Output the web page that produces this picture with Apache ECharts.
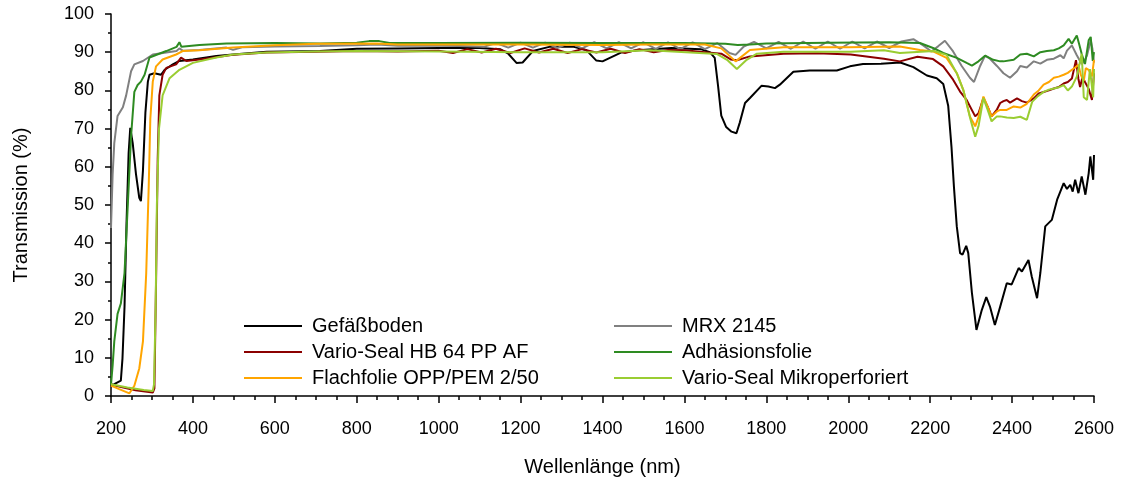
<!DOCTYPE html>
<html>
<head>
<meta charset="utf-8">
<script src="https://cdn.jsdelivr.net/npm/echarts@6/dist/echarts.min.js"></script>
<style>
  html, body { margin: 0; padding: 0; background: #fff; }
  #chart { width: 1127px; height: 483px; }
</style>
</head>
<body>
<div id="chart"></div>
<script>
// Transmission spectra, [wavelength nm, transmission %]
const gefaessboden = [[200,2.9],[208,3.1],[224,4.0],[228,9.8],[233,23.3],[238,45.6],[243,63.5],[247,70.2],[253,66.2],[261,58.1],[269,51.9],[273,51.0],[278,59.0],[284,74.2],[290,82.3],[294,84.1],[306,84.5],[322,84.1],[331,85.4],[351,86.8],[367,87.7],[400,88.1],[457,89.0],[498,89.4],[580,90.1],[710,90.3],[800,90.9],[900,91.0],[1000,91.1],[1100,91.1],[1150,90.8],[1170,89.6],[1190,87.2],[1205,87.3],[1230,90.3],[1270,91.4],[1330,91.4],[1360,90.6],[1385,87.8],[1400,87.6],[1445,89.9],[1486,90.5],[1568,91.1],[1640,90.8],[1662,90.0],[1674,88.5],[1682,81.3],[1690,73.4],[1702,70.4],[1715,69.2],[1727,68.8],[1735,71.5],[1748,76.7],[1760,78.0],[1788,81.2],[1805,81.0],[1821,80.6],[1833,81.5],[1866,84.9],[1906,85.2],[1972,85.2],[2004,86.3],[2036,86.9],[2080,87.0],[2127,87.3],[2159,86.1],[2192,83.9],[2216,83.2],[2232,81.7],[2244,76.0],[2252,65.3],[2258,54.8],[2265,44.4],[2273,37.4],[2279,37.0],[2288,39.3],[2293,37.4],[2302,26.9],[2313,17.3],[2326,22.5],[2337,25.9],[2346,23.4],[2358,18.6],[2371,23.4],[2387,29.5],[2399,29.2],[2416,33.5],[2424,32.6],[2440,35.6],[2448,31.3],[2461,25.6],[2469,32.2],[2481,44.4],[2497,46.1],[2510,51.4],[2526,55.7],[2534,54.2],[2542,55.3],[2548,53.5],[2554,56.6],[2562,53.1],[2570,57.5],[2579,52.7],[2587,58.3],[2591,62.7],[2598,56.6],[2600,63.1]];

const mrx2145 = [[200,44.0],[204,58.0],[208,66.2],[216,73.3],[229,75.6],[237,78.7],[249,85.0],[257,86.8],[278,87.7],[302,89.4],[335,89.9],[360,90.3],[367,91.0],[375,90.4],[416,90.6],[482,91.2],[498,90.6],[520,91.3],[600,91.5],[710,91.6],[800,91.8],[850,92.0],[900,91.7],[1000,91.7],[1050,91.6],[1110,91.4],[1140,92.4],[1170,91.2],[1200,92.5],[1230,91.2],[1260,92.5],[1290,91.1],[1320,92.5],[1350,91.0],[1380,92.6],[1410,91.0],[1440,92.6],[1470,91.0],[1500,92.6],[1530,90.9],[1560,92.6],[1590,90.8],[1620,92.6],[1650,90.8],[1680,92.4],[1710,89.8],[1725,89.3],[1745,91.5],[1770,92.7],[1800,91.0],[1830,92.7],[1860,90.9],[1890,92.8],[1920,90.9],[1950,92.8],[1980,90.9],[2010,92.8],[2040,91.0],[2070,92.8],[2100,91.1],[2130,92.8],[2159,93.4],[2183,91.8],[2203,90.2],[2220,91.6],[2236,93.0],[2256,90.2],[2277,86.4],[2297,83.3],[2307,82.2],[2322,86.4],[2334,89.1],[2346,88.3],[2363,86.4],[2379,84.5],[2395,83.3],[2412,85.0],[2420,86.4],[2436,86.0],[2453,87.6],[2469,87.0],[2485,88.0],[2502,88.3],[2518,89.2],[2526,88.4],[2534,90.4],[2546,91.8],[2558,89.2],[2570,86.9],[2578,88.0],[2583,89.2],[2592,93.1],[2596,91.0],[2600,87.3]];

const varioSealHB = [[200,3.0],[230,2.2],[260,1.5],[302,0.9],[306,2.0],[310,30.0],[314,62.0],[318,78.7],[326,84.1],[335,85.9],[359,86.8],[371,88.6],[384,87.7],[416,88.1],[498,89.3],[580,89.9],[700,90.1],[800,90.3],[900,90.2],[1000,90.4],[1035,89.8],[1070,90.8],[1105,89.9],[1140,90.9],[1175,89.8],[1210,91.0],[1245,89.9],[1280,90.9],[1315,89.8],[1350,90.8],[1385,89.9],[1420,90.9],[1455,89.8],[1490,90.8],[1525,90.0],[1560,90.6],[1600,90.5],[1650,90.0],[1690,89.6],[1713,88.1],[1728,87.9],[1760,88.9],[1842,89.6],[1924,89.7],[2006,89.4],[2087,88.3],[2126,87.6],[2169,88.8],[2207,88.2],[2232,86.3],[2256,82.8],[2273,79.7],[2289,77.5],[2310,73.2],[2318,74.0],[2330,78.0],[2340,75.8],[2350,73.2],[2363,75.0],[2371,76.7],[2379,77.2],[2387,77.5],[2395,76.8],[2412,77.9],[2424,77.2],[2436,76.8],[2453,77.9],[2465,79.2],[2477,79.6],[2490,80.0],[2502,80.5],[2514,80.9],[2526,81.8],[2536,82.2],[2546,83.1],[2556,87.9],[2562,83.0],[2566,80.9],[2572,83.5],[2578,82.2],[2587,80.4],[2595,77.5],[2600,84.5]];

const adhaesionsfolie = [[200,3.0],[204,8.0],[208,14.3],[216,21.5],[224,24.2],[233,32.2],[241,50.0],[249,68.0],[257,79.6],[265,81.4],[273,82.3],[282,84.1],[294,88.6],[335,90.3],[360,91.4],[367,92.6],[372,91.4],[416,91.9],[482,92.3],[600,92.4],[710,92.3],[800,92.5],[830,92.9],[855,92.9],[880,92.4],[1000,92.4],[1200,92.5],[1400,92.4],[1600,92.4],[1700,92.2],[1730,91.9],[1760,92.0],[1800,92.3],[1950,92.5],[2100,92.6],[2175,92.4],[2207,91.1],[2232,89.8],[2265,88.5],[2289,87.2],[2302,86.5],[2318,87.6],[2334,89.1],[2354,88.0],[2371,87.6],[2379,87.6],[2404,88.0],[2420,89.4],[2436,89.6],[2453,88.9],[2469,90.0],[2485,90.3],[2502,90.5],[2514,91.0],[2526,91.8],[2538,93.5],[2546,92.2],[2558,94.4],[2564,92.0],[2570,89.5],[2578,86.9],[2587,93.1],[2592,94.0],[2597,87.7],[2600,90.0]];

const flachfolie = [[200,2.7],[220,1.8],[245,0.7],[257,2.7],[269,7.2],[278,14.3],[286,32.2],[292,54.6],[296,72.5],[302,82.3],[310,86.3],[326,88.1],[359,89.4],[375,90.3],[416,90.5],[498,91.2],[600,91.8],[700,92.2],[850,92.3],[900,92.0],[1000,92.0],[1200,92.0],[1400,91.9],[1516,92.0],[1650,92.0],[1690,91.0],[1725,87.6],[1760,90.6],[1842,91.3],[2000,91.3],[2126,91.5],[2175,90.6],[2207,90.2],[2240,88.5],[2265,84.5],[2281,80.1],[2297,73.2],[2310,70.6],[2318,73.0],[2330,78.4],[2340,75.8],[2350,73.2],[2363,74.5],[2371,74.9],[2387,74.9],[2404,75.8],[2420,75.5],[2436,76.5],[2453,78.9],[2465,80.0],[2477,81.5],[2490,82.2],[2502,83.3],[2514,83.6],[2526,84.1],[2536,84.6],[2546,85.4],[2554,86.0],[2562,86.7],[2568,84.0],[2575,82.5],[2580,85.8],[2587,85.4],[2595,83.7],[2600,88.0]];

const varioSealMikro = [[200,3.1],[240,2.2],[280,1.6],[302,1.3],[305,3.0],[309,23.3],[312,50.0],[317,69.8],[326,78.7],[343,83.2],[367,85.4],[400,87.2],[457,88.6],[498,89.4],[580,89.9],[700,90.2],[800,90.3],[1000,90.2],[1200,90.0],[1400,90.0],[1516,90.5],[1680,89.5],[1704,88.0],[1728,85.6],[1752,88.0],[1777,89.6],[1842,90.1],[2006,90.1],[2087,90.5],[2126,89.8],[2209,90.3],[2240,89.3],[2265,84.5],[2281,80.1],[2297,73.0],[2310,67.9],[2318,70.6],[2330,78.0],[2340,75.0],[2350,71.9],[2363,73.2],[2371,73.2],[2387,72.9],[2404,72.8],[2420,73.1],[2436,72.3],[2449,77.0],[2463,78.5],[2477,79.6],[2490,80.2],[2502,80.5],[2514,80.8],[2526,81.4],[2536,80.0],[2546,81.0],[2558,83.6],[2570,89.6],[2575,78.2],[2583,77.5],[2590,85.6],[2598,78.2],[2600,85.6]];

const seriesDefs = [
  { name: 'Gefäßboden', data: gefaessboden, color: '#000000' },
  { name: 'MRX 2145', data: mrx2145, color: '#808080' },
  { name: 'Vario-Seal HB 64 PP AF', data: varioSealHB, color: '#8B0000' },
  { name: 'Adhäsionsfolie', data: adhaesionsfolie, color: '#2E8B22' },
  { name: 'Flachfolie OPP/PEM 2/50', data: flachfolie, color: '#FFA500' },
  { name: 'Vario-Seal Mikroperforiert', data: varioSealMikro, color: '#9ACD32' }
];

const FONT = "'Liberation Sans', Arial, sans-serif";

const legendBase = {
  orient: 'vertical',
  top: 316,
  padding: 0,
  icon: 'rect',
  itemWidth: 58,
  itemHeight: 2,
  itemGap: 6,
  selectedMode: false,
  itemStyle: { borderWidth: 0 },
  textStyle: { fontFamily: FONT, fontSize: 20, lineHeight: 20, color: '#000', padding: [0, 0, 0, 5] }
};

const chart = echarts.init(document.getElementById('chart'), null, { renderer: 'canvas' });

chart.setOption({
  animation: false,
  backgroundColor: '#fff',
  grid: { left: 111, right: 33, top: 14, bottom: 87, containLabel: false },
  legend: [
    Object.assign({}, legendBase, { left: 244, data: ['Gefäßboden', 'Vario-Seal HB 64 PP AF', 'Flachfolie OPP/PEM 2/50'] }),
    Object.assign({}, legendBase, { left: 614, data: ['MRX 2145', 'Adhäsionsfolie', 'Vario-Seal Mikroperforiert'] })
  ],
  xAxis: {
    type: 'value',
    min: 200,
    max: 2600,
    interval: 200,
    name: 'Wellenlänge (nm)',
    nameLocation: 'middle',
    nameGap: 61,
    nameTextStyle: { fontFamily: FONT, fontSize: 20, color: '#000' },
    axisLine: { lineStyle: { color: '#000', width: 1.5 } },
    axisTick: { show: true, inside: false, length: 7, lineStyle: { color: '#000', width: 1.5 } },
    minorTick: { show: true, splitNumber: 4, length: 4, lineStyle: { color: '#000', width: 1.5 } },
    axisLabel: { fontFamily: FONT, fontSize: 18, color: '#000', margin: 24, formatter: v => String(v) },
    splitLine: { show: false }
  },
  yAxis: {
    type: 'value',
    min: 0,
    max: 100,
    interval: 10,
    name: 'Transmission (%)',
    nameLocation: 'middle',
    nameGap: 80,
    nameTextStyle: { fontFamily: FONT, fontSize: 20, color: '#000' },
    axisLine: { show: true, lineStyle: { color: '#000', width: 1.5 } },
    axisTick: { show: true, inside: false, length: 6, lineStyle: { color: '#000', width: 1.5 } },
    minorTick: { show: true, splitNumber: 2, length: 3, lineStyle: { color: '#000', width: 1.5 } },
    axisLabel: { fontFamily: FONT, fontSize: 18, color: '#000', margin: 17, formatter: v => String(v) },
    splitLine: { show: false }
  },
  series: seriesDefs.map(s => ({
    name: s.name,
    type: 'line',
    data: s.data,
    color: s.color,
    showSymbol: false,
    symbol: 'none',
    smooth: false,
    lineStyle: { width: 2, color: s.color },
    itemStyle: { color: s.color },
    emphasis: { disabled: true }
  }))
});
</script>
</body>
</html>
